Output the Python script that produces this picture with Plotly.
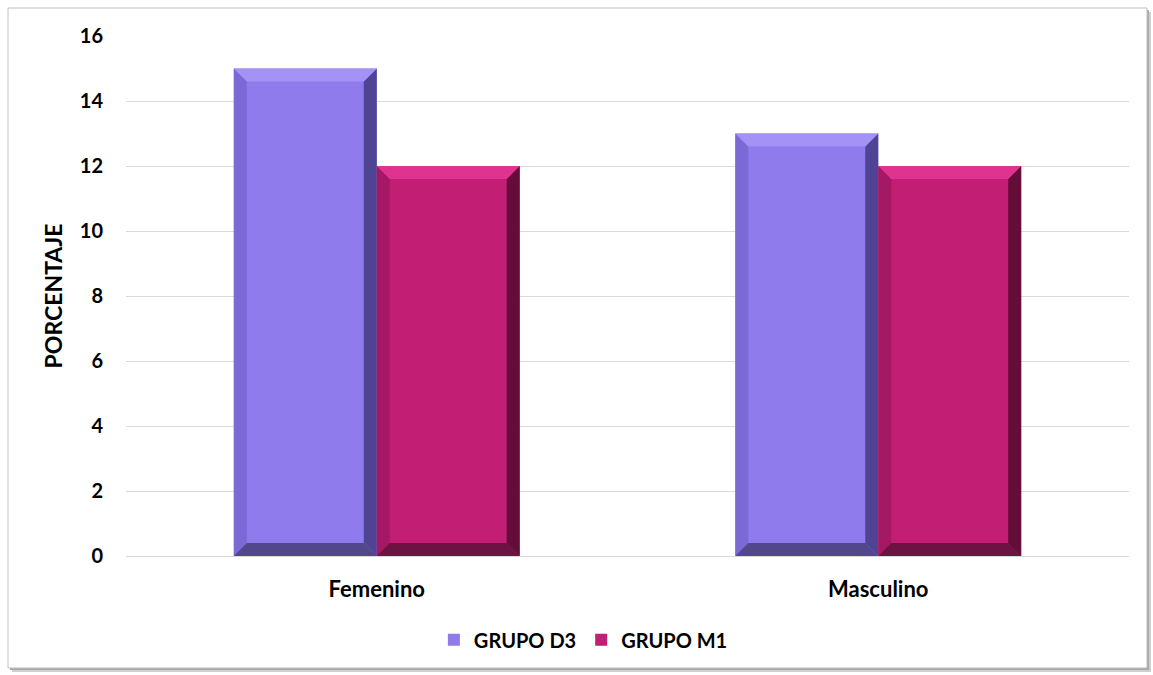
import numpy as np
import plotly.graph_objects as go

categories = ["Femenino", "Masculino"]
grupo_d3 = [15, 13]
grupo_m1 = [12, 12]
series_names = ["GRUPO D3", "GRUPO M1"]
y_ticks = [0, 2, 4, 6, 8, 10, 12, 14, 16]

W, H = 1153, 675
ML, MR, MT, MB = 126, 24, 36, 119
PW, PH = W - ML - MR, H - MT - MB
Y_MAX = 16
BARGAP = 0.43

# face, top, left, right, bottom tones for the bevelled bars
palettes = [
    dict(face="#8F7BEC", top="#A592F7", left="#7B6AD6", right="#4F4494", bottom="#51478A"),
    dict(face="#C21E74", top="#DE3390", left="#A51964", right="#640D39", bottom="#6B1341"),
]

x_pos = np.arange(len(categories), dtype=float)
x_range = [-0.5, len(categories) - 0.5]
bar_w = (1 - BARGAP) / 2

fig = go.Figure()
for name, vals, pal in zip(series_names, [grupo_d3, grupo_m1], palettes):
    fig.add_trace(go.Bar(
        x=x_pos, y=vals, name=name,
        marker=dict(color=pal["face"], line=dict(width=0)),
    ))

# bevel edges, built from the bar values in data units (about 13 px wide)
BEVEL_PX = 13
dx = BEVEL_PX / PW * (x_range[1] - x_range[0])
dy = BEVEL_PX / PH * Y_MAX


def poly(pts):
    return "M " + " L ".join(f"{px},{py}" for px, py in pts) + " Z"


shapes = []
for s_idx, (vals, pal) in enumerate(zip([grupo_d3, grupo_m1], palettes)):
    for c_idx, v in enumerate(vals):
        x0 = x_pos[c_idx] - bar_w + s_idx * bar_w
        x1 = x0 + bar_w
        parts = {
            "left": [(x0, v), (x0 + dx, v - dy), (x0 + dx, dy), (x0, 0)],
            "right": [(x1, v), (x1 - dx, v - dy), (x1 - dx, dy), (x1, 0)],
            "top": [(x0, v), (x1, v), (x1 - dx, v - dy), (x0 + dx, v - dy)],
            "bottom": [(x0, 0), (x0 + dx, dy), (x1 - dx, dy), (x1, 0)],
        }
        for key, pts in parts.items():
            shapes.append(dict(type="path", xref="x", yref="y", path=poly(pts),
                               fillcolor=pal[key], line=dict(width=0), layer="above"))


def px_to_paper(px, py):
    return (px - ML) / PW, (H - MB - py) / PH


# outer frame with a soft drop shadow
for off, col in [(4, "#D0D0D0"), (2, "#A8A8A8")]:
    ax0, ay0 = px_to_paper(8 + off, 8 + off)
    ax1, ay1 = px_to_paper(1147 + off, 668 + off)
    shapes.append(dict(type="rect", xref="paper", yref="paper", x0=ax0, y0=ay1, x1=ax1, y1=ay0,
                       fillcolor=col, line=dict(width=0), layer="below"))
fx0, fy0 = px_to_paper(8, 8)
fx1, fy1 = px_to_paper(1147, 668)
shapes.append(dict(type="rect", xref="paper", yref="paper", x0=fx0, y0=fy1, x1=fx1, y1=fy0,
                   fillcolor="white", line=dict(color="#BFBFBF", width=1), layer="below"))

font_family = "Lato, 'Open Sans', sans-serif"

fig.update_layout(
    width=W, height=H,
    margin=dict(l=ML, r=MR, t=MT, b=MB),
    paper_bgcolor="white",
    plot_bgcolor="rgba(0,0,0,0)",
    barmode="group",
    bargap=BARGAP,
    bargroupgap=0,
    shapes=shapes,
    font=dict(family=font_family, color="black", size=16),
    showlegend=True,
    legend=dict(orientation="h", x=0.456, xanchor="center", y=-0.161, yanchor="middle",
                font=dict(family=font_family, size=20, color="black", weight="bold"),
                itemwidth=30, tracegroupgap=0, bgcolor="rgba(0,0,0,0)"),
    xaxis=dict(
        range=x_range,
        tickvals=x_pos, ticktext=[f"<b>{c}</b>" for c in categories],
        showgrid=False, zeroline=False, showline=False,
        ticks="", ticklabelstandoff=18,
        tickfont=dict(size=22, color="black"),
        fixedrange=True,
    ),
    yaxis=dict(
        range=[0, Y_MAX],
        tickvals=y_ticks, ticktext=[f"<b>{t}</b>" for t in y_ticks],
        showgrid=True, gridcolor="#D9D9D9", gridwidth=1,
        zeroline=True, zerolinecolor="#D9D9D9", zerolinewidth=1,
        showline=False, ticks="", ticklabelstandoff=22,
        tickfont=dict(size=20, color="black"),
        title=dict(text="<b>PORCENTAJE</b>", font=dict(size=23, color="black"), standoff=10),
        fixedrange=True,
    ),
)

fig.write_html("out.html")
